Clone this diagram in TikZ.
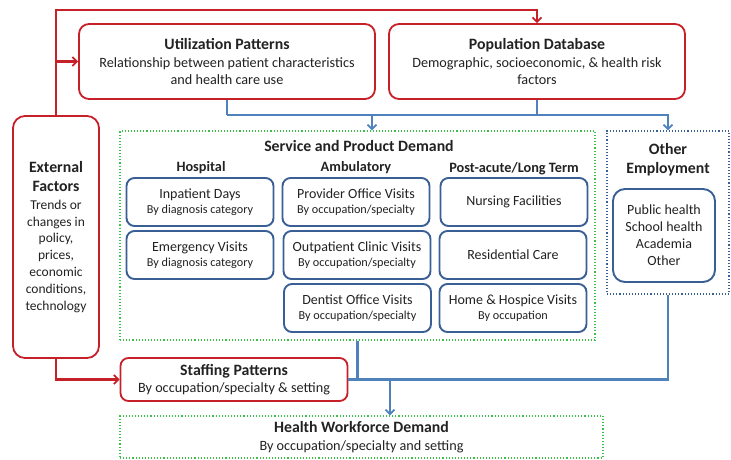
\documentclass[tikz,border=0pt]{standalone}
\usepackage{fontspec}
\setmainfont{Carlito}
\usetikzlibrary{arrows.meta}
\definecolor{rd}{HTML}{C62028}
\definecolor{bl}{HTML}{4F81BD}
\definecolor{dbl}{HTML}{3A5F95}
\definecolor{gr}{HTML}{3CC04A}
\definecolor{tx}{HTML}{222222}
\newcommand{\ttl}[1]{{\bfseries\fontsize{15.8}{18}\selectfont #1}}
\newcommand{\mainl}[1]{{\fontsize{14}{15}\selectfont #1}}
\begin{document}
\begin{tikzpicture}[x=1pt,y=-1pt,
  redbox/.style={draw=rd,line width=1.8pt,rounded corners=10pt,fill=white,inner sep=0pt,align=center,text=tx,font=\fontsize{14.2}{17.5}\selectfont},
  innerbox/.style={draw=dbl,line width=1.9pt,rounded corners=8pt,fill=white,inner sep=0pt,align=center,text=tx,font=\fontsize{12.2}{15.5}\selectfont,minimum width=147pt,minimum height=48pt},
  grbox/.style={draw=gr,line width=1.1pt,dotted,inner sep=0pt,align=center,text=tx,font=\fontsize{14.2}{18}\selectfont},
  obox/.style={draw=dbl,line width=1.1pt,dotted,inner sep=0pt},
  hdr/.style={text=tx,inner sep=0pt,font=\bfseries\fontsize{14.3}{16}\selectfont},
  redline/.style={draw=rd,line width=2.1pt},
  blueline/.style={draw=bl,line width=2.1pt},
  tip/.style={-{Straight Barb[length=4.5pt,width=9pt,line width=1.8pt]}}
]
\useasboundingbox (0,0) rectangle (731,459);

% containers
\node[grbox,minimum width=475pt,minimum height=209pt] (svc) at (357.5,235.5) {};
\node[obox,minimum width=122pt,minimum height=163pt] (oth) at (668,212.5) {};
\node[grbox,minimum width=483pt,minimum height=42pt] (hwd) at (361.5,437)
  {\ttl{Health Workforce Demand}\\By occupation/specialty and setting};

% red boxes
\node[redbox,minimum width=296pt,minimum height=75pt] (util) at (227,61.5)
  {\ttl{Utilization Patterns}\\Relationship between patient characteristics\\and health care use};
\node[redbox,minimum width=296pt,minimum height=75pt] (pop) at (537,61.5)
  {\ttl{Population Database}\\Demographic, socioeconomic, \& health risk\\factors};
\node[redbox,rounded corners=12pt,minimum width=86pt,minimum height=242pt,font=\fontsize{13.5}{16.8}\selectfont] (ext) at (56,237)
  {\ttl{External}\\[2pt]\ttl{Factors}\\[1pt]Trends or\\changes in\\policy,\\prices,\\economic\\conditions,\\technology};
\node[redbox,rounded corners=8pt,minimum width=227pt,minimum height=43pt] (staff) at (234,379.5)
  {\ttl{Staffing Patterns}\\By occupation/specialty \& setting};

% headers
\node[hdr,font=\bfseries\fontsize{15.8}{18}\selectfont] (svct) at (359,146) {Service and Product Demand};
\node[hdr] (hosp) at (201,168) {Hospital};
\node[hdr] (amb) at (356,168) {Ambulatory};
\node[hdr] (post) at (514,169) {Post-acute/Long Term};
\node[hdr,align=center,font=\bfseries\fontsize{15.8}{19}\selectfont] (otht) at (668,160) {Other\\Employment};

% inner boxes
\node[innerbox] (inp) at (200,202) {\mainl{Inpatient Days}\\By diagnosis category};
\node[innerbox] (emer) at (200,255) {\mainl{Emergency Visits}\\By diagnosis category};
\node[innerbox] (prov) at (356,202) {\mainl{Provider Office Visits}\\By occupation/specialty};
\node[innerbox] (outp) at (357,255) {\mainl{Outpatient Clinic Visits}\\By occupation/specialty};
\node[innerbox] (dent) at (357.5,308) {\mainl{Dentist Office Visits}\\By occupation/specialty};
\node[innerbox,font=\fontsize{14}{15}\selectfont] (nurs) at (514,202) {Nursing Facilities};
\node[innerbox,font=\fontsize{14}{15}\selectfont] (resi) at (513,255) {Residential Care};
\node[innerbox] (home) at (513,308) {\mainl{Home \& Hospice Visits}\\By occupation};
\node[innerbox,rounded corners=12pt,minimum width=102pt,minimum height=93pt,font=\fontsize{14}{17}\selectfont] (othin) at (664,235.5)
  {Public health\\School health\\Academia\\Other};

% red connectors
\coordinate (tl) at (56,10);
\draw[redline,tip] (ext.north) -- (tl) -| (pop.north);
\draw[redline,tip] (ext.north |- util.west) -- (util.west);
\draw[redline,tip] (ext.south) |- (staff.west);

% blue connectors
\coordinate (bj) at (227,115);
\coordinate (sa) at (372,115);
\draw[blueline] (util.south) -- (bj);
\draw[blueline,tip] (bj) -| (oth.north);
\draw[blueline] (pop.south) -- (pop.south |- bj);
\draw[blueline,tip] (sa) -- (sa |- svc.north);
\draw[blueline] (svc.south) -- (svc.south |- staff.east);
\draw[blueline] (staff.east) -| (oth.south);
\coordinate (da) at (390,379.5);
\draw[blueline,tip] (da) -- (da |- hwd.north);
\end{tikzpicture}
\end{document}
